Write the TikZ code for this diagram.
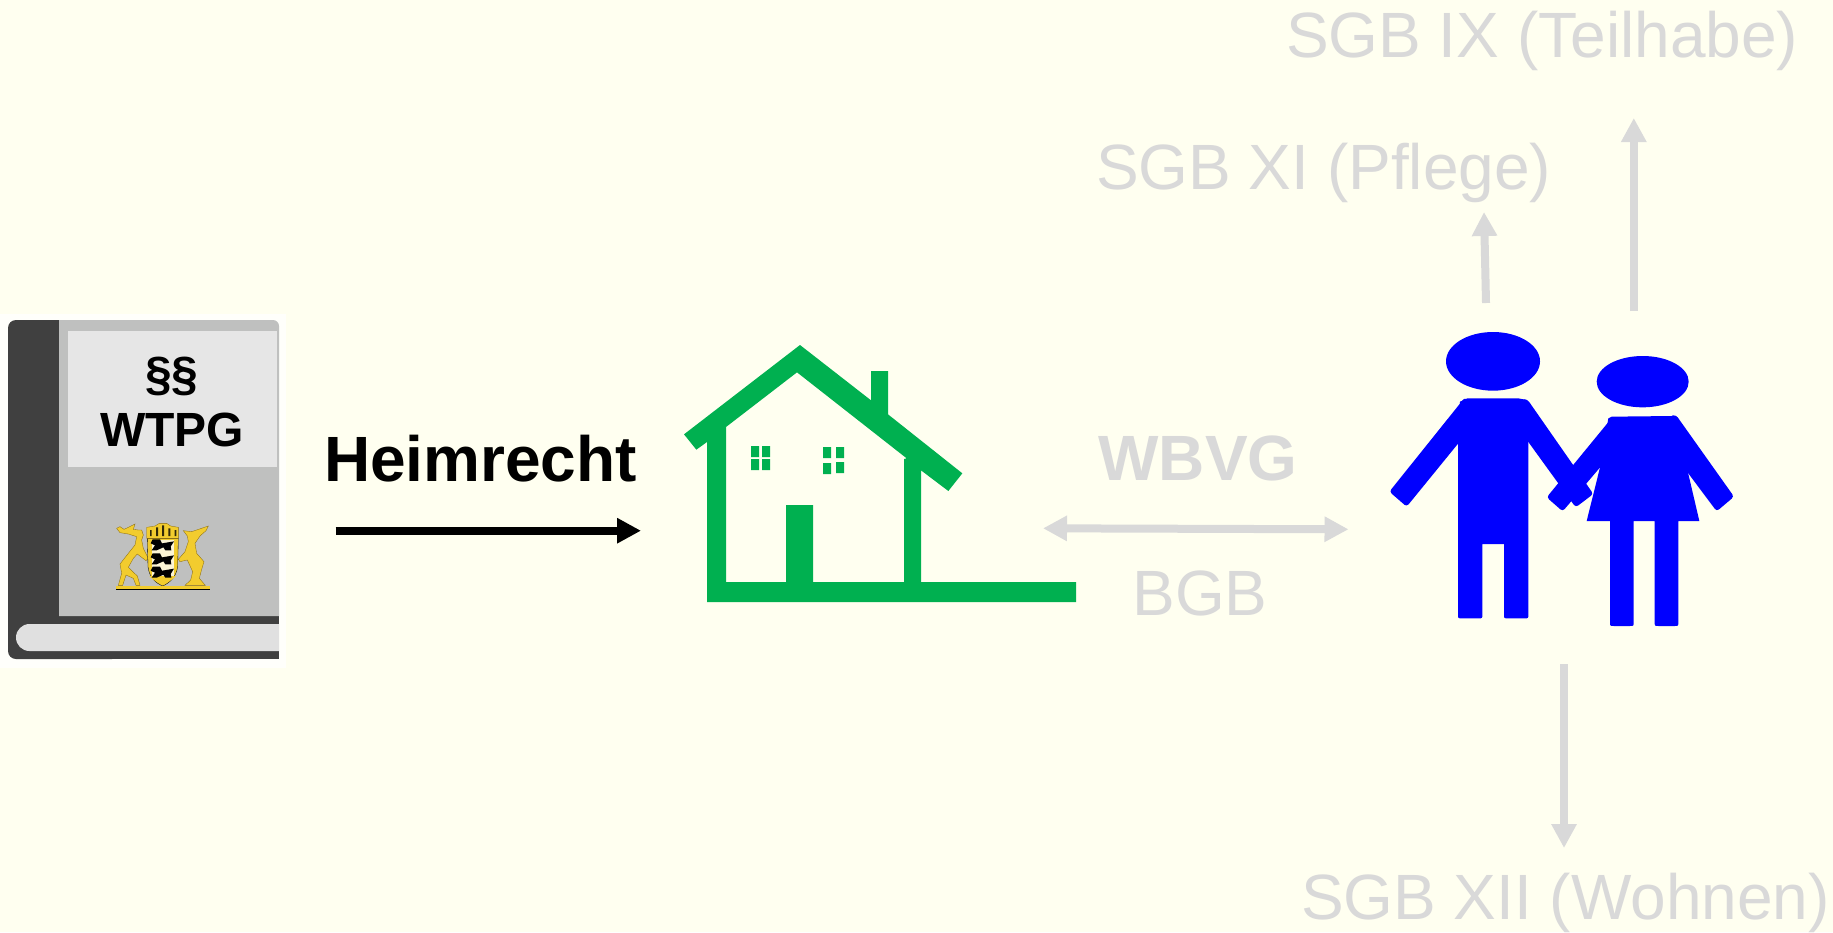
\documentclass[tikz,border=0pt]{standalone}
\usepackage{fontspec}
\setmainfont{Liberation Sans}
\usetikzlibrary{arrows.meta}
\definecolor{bgc}{HTML}{FFFFF0}
\definecolor{halo}{HTML}{FFFFFB}
\definecolor{gr}{HTML}{D9D9D9}
\definecolor{housec}{HTML}{00B050}
\definecolor{bookdark}{HTML}{404040}
\definecolor{bookcover}{HTML}{BFC0BF}
\definecolor{booklabel}{HTML}{E6E6E6}
\definecolor{bookstrip}{HTML}{E0E0E0}
\definecolor{gold}{HTML}{F2CC2E}
\definecolor{goldd}{HTML}{8A6C10}
\tikzset{
  lbl/.style={anchor=base west,inner sep=0pt,outer sep=0pt,text=gr,font=\fontsize{48}{48}\selectfont},
  lblb/.style={lbl,font=\fontsize{48}{48}\selectfont\bfseries},
  booktxt/.style={anchor=base,inner sep=0pt,text=black,font=\fontsize{36}{36}\selectfont\bfseries},
  grarrow/.style={draw=gr,line width=6pt,-{Triangle[length=18pt,width=18pt]}},
  grdouble/.style={draw=gr,line width=6pt,{Triangle[length=18pt,width=18pt]}-{Triangle[length=18pt,width=18pt]}},
  blkarrow/.style={draw=black,line width=6pt,-{Triangle[length=18pt,width=18pt]}},
  limb/.style={fill=blue,rounded corners=2.2pt},
  trunk/.style={fill=blue},
  beast/.style={fill=gold,draw=goldd,line width=.25pt},
}
\begin{document}
\begin{tikzpicture}[x=0.75pt,y=-0.75pt]
\useasboundingbox (0,0) rectangle (1833,932);
\fill[bgc] (0,0) rectangle (1833,932);
% book
\fill[halo] (0,314) rectangle (286,668);
\fill[bookdark,rounded corners=6pt] (8,320) -- (120,320) -- (120,659) -- (8,659) -- cycle;
\fill[bookdark] (60,616) rectangle (279,659);
\fill[bookcover] (59,320) -- (273,320) arc[start angle=270,end angle=360,radius=6] -- (279,616) -- (59,616) -- cycle;
\fill[booklabel] (68,331) rectangle (277,467);
\fill[bookstrip] (279,624) -- (29.5,624) arc[start angle=270,end angle=90,radius=13.5] -- (279,651) -- cycle;
\node[booktxt] (paras) at (172,390) {§§};
\node[booktxt] (wtpg) at (172,446) {WTPG};
% coat of arms
\begin{scope}[shift={(100,510)},x=0.25pt,y=-0.25pt]
  \fill[beast] (125,60)--(130,75)--(125,90)--(130,115)--(145,145)--(138,152)--(112,132)--(100,145)--(85,172)--(112,198)--(120,226)--(108,226)--(100,205)--(78,195)--(68,226)--(55,226)--(65,190)--(60,162)--(85,130)--(105,105)--(110,80)--(85,72)--(60,68)--(50,55)--(60,50)--(72,58)--(85,52)--(105,42)--(100,58)--(115,60)--cycle;
  \fill[beast] (250,62)--(275,65)--(325,48)--(318,62)--(300,78)--(285,100)--(290,130)--(312,155)--(305,178)--(298,205)--(316,226)--(255,226)--(272,210)--(278,185)--(262,150)--(240,155)--(235,148)--(255,125)--(265,95)--(262,78)--cycle;
  \fill[gold,draw=black,line width=.25pt] (142,85)--(235,85)--(233,170) .. controls (228,205) and (205,220) .. (188,228) .. controls (170,220) and (148,205) .. (144,170) -- cycle;
  \fill[white!80!gold] (155,90) rectangle (222,200);
  \fill[gold] (148,198) -- (228,198) .. controls (215,212) and (200,218) .. (188,224) .. controls (175,218) and (160,212) .. (148,198) -- cycle;
  \foreach \yy in {88,130,170}{
    \fill[black] (158,\yy) -- (180,\yy) -- (186,\yy+12) -- (222,\yy+6) -- (212,\yy+22) -- (214,\yy+33) -- (196,\yy+33) -- (190,\yy+24) -- (170,\yy+33) -- (155,\yy+33) -- (165,\yy+18) -- (152,\yy+12) -- cycle;
  }
  \fill[gold,draw=goldd,line width=.25pt] (140,52)--(165,48)--(178,40)--(200,40)--(212,48)--(235,52)--(235,85)--(140,85)--cycle;
  \fill[black!80!gold] (150,60) rectangle (155,78) (168,52) rectangle (174,78) (186,46) rectangle (192,78) (205,55) rectangle (211,78) (224,60) rectangle (229,78);
  \fill[gold] (48,228) rectangle (330,236);
  \fill[black] (48,236) rectangle (330,240);
\end{scope}
% house
\begin{scope}[shift={(670,330)},x=0.25pt,y=-0.25pt]
  \fill[housec,even odd rule] (42,313)--(390,45)--(603,211)--(603,123)--(654,123)--(654,253)--(877,430)--(835,483)--(753,421)--(753,756)--(1218,756)--(1218,816)--(111,816)--(111,336)--(79,359)--cycle
    (168,756)--(348,756)--(348,525)--(429,525)--(429,756)--(702,756)--(702,387)--(710,385)--(381,127)--(168,291)--cycle;
  \fill[housec] (243,348) rectangle (267,381) (276,348) rectangle (300,381) (243,387) rectangle (267,420) (276,387) rectangle (300,420)
    (459,351) rectangle (483,384) (498,351) rectangle (522,384) (459,399) rectangle (483,432) (498,396) rectangle (522,429);
\end{scope}
% people
\begin{scope}[shift={(1370,320)},x=0.25pt,y=-0.25pt]
  \fill[blue] (369,124) ellipse [x radius=141,y radius=88];
  \fill[blue] (818,185) ellipse [x radius=138,y radius=77];
  % man
  \path[trunk] (270,245)--(292,235)--(445,235)--(470,240)--(475,372)--(475,883) .. controls (475,895) and (475,895) .. (463,895) -- (414,895) .. controls (402,895) and (402,895) .. (402,883) -- (402,672)--(337,672)--(337,883) .. controls (337,895) and (337,895) .. (325,895) -- (276,895) .. controls (264,895) and (264,895) .. (264,883) -- (264,372)--cycle;
  \path[limb] (285,232)--(58,515)--(110,560)--(330,290)--cycle;
  \path[limb] (455,238)--(472,238)--(670,522)--(617,562)--(420,290)--cycle;
  % woman
  \path[trunk] (715,295)--(725,290)--(910,288)--(920,290)--(955,462)--(988,603)--(925,603)--(925,906) .. controls (925,918) and (925,918) .. (913,918) -- (866,918) .. controls (854,918) and (854,918) .. (854,906) -- (854,603)--(791,603)--(791,906) .. controls (791,918) and (791,918) .. (779,918) -- (732,918) .. controls (720,918) and (720,918) .. (720,906) -- (720,603)--(650,603)--(690,442)--cycle;
  \path[limb] (730,288)--(530,532)--(578,574)--(760,360)--cycle;
  \path[limb] (900,287)--(918,285)--(1092,530)--(1040,574)--(880,360)--cycle;
\end{scope}
% texts
\node[lbl] (sgbix) at (1286,57) {SGB IX (Teilhabe)};
\node[lbl] (sgbxi) at (1096,189) {SGB XI (Pflege)};
\node[lbl] (sgbxii) at (1301,919) {SGB XII (Wohnen)};
\node[lblb] (wbvg) at (1098.5,480) {WBVG};
\node[lbl] (bgb) at (1132.5,615) {BGB};
\node[lblb,text=black] (heim) at (324,481) {Heimrecht};
% arrows
\coordinate (a1) at (335.7,530.7); \coordinate (a2) at (641,530.7);
\draw[blkarrow] (a1) -- (a2);
\coordinate (b1) at (1043,528.3); \coordinate (b2) at (1348.5,529.3);
\draw[grdouble] (b1) -- (b2);
\coordinate (c1) at (1486,303); \coordinate (c2) at (1484,212);
\draw[grarrow] (c1) -- (c2);
\coordinate (d1) at (1633.8,311); \coordinate (d2) at (1633.8,118);
\draw[grarrow] (d1) -- (d2);
\coordinate (e1) at (1564,664); \coordinate (e2) at (1564,848);
\draw[grarrow] (e1) -- (e2);
\end{tikzpicture}
\end{document}
